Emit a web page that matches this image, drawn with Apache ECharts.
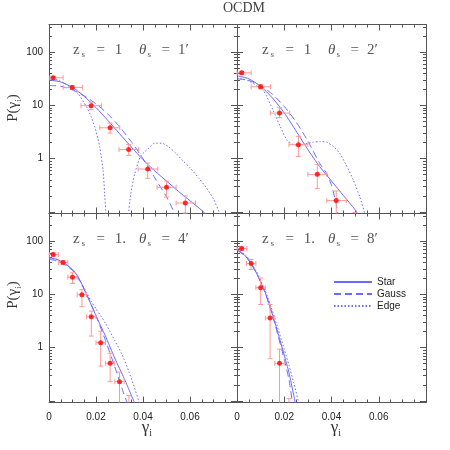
<!DOCTYPE html>
<html>
<head>
<meta charset="utf-8">
<script src="https://cdn.jsdelivr.net/npm/echarts@6/dist/echarts.min.js"></script>
<style>
html, body { margin: 0; padding: 0; background: #fff; }
#main { width: 450px; height: 450px; }
</style>
</head>
<body>
<div id="main"></div>
<script>
// axis ranges and tick labels
var xMin = 0, xMax = 0.08, xStep = 0.02;
var yMin = 0.0933, yMax = 331;
var yMajor = [0.1, 1, 10, 100];
var yLabels = [1, 10, 100];

// panel captions
var panelZ = ['1', '1', '1.', '1.'];
var panelTheta = ['1′', '2′', '4′', '8′'];

// measured points: [x, P, xlo, xhi, Plo, Phi]
var pts1 = [
    [0.0018, 33.1, 0.0004, 0.0060, 31.0, 35.0],
    [0.0099, 21.8, 0.0060, 0.0143, 20.0, 23.7],
    [0.0179, 9.87, 0.0136, 0.0223, 8.30, 11.5],
    [0.0260, 3.80, 0.0216, 0.0301, 3.02, 4.66],
    [0.0339, 1.48, 0.0298, 0.0382, 1.15, 1.85],
    [0.0420, 0.64, 0.0379, 0.0463, 0.427, 0.826],
    [0.0500, 0.29, 0.0460, 0.0541, 0.19, 0.38],
    [0.0580, 0.147, 0.0541, 0.0623, 0.095, 0.20]
];
var pts2 = [
    [0.0020, 41.0, 0.0000, 0.0060, 38.5, 43.7],
    [0.0100, 22.4, 0.0060, 0.0142, 20.5, 24.5],
    [0.0180, 7.18, 0.0141, 0.0223, 5.87, 9.06],
    [0.0260, 1.83, 0.0220, 0.0300, 1.10, 2.62],
    [0.0340, 0.507, 0.0300, 0.0380, 0.274, 0.782],
    [0.0420, 0.163, 0.0380, 0.0463, 0.09, 0.247],
    [0.0500, 0.05, 0.0460, 0.0540, 0.01, 0.098]
];
var pts3 = [
    [0.0018, 56.2, 0.0001, 0.0040, 52.5, 60.3],
    [0.0060, 39.8, 0.0040, 0.0080, 37.0, 43.0],
    [0.0100, 21.1, 0.0080, 0.0120, 16.1, 25.5],
    [0.0140, 9.86, 0.0120, 0.0160, 5.89, 12.3],
    [0.0180, 3.80, 0.0160, 0.0200, 1.65, 4.86],
    [0.0220, 1.24, 0.0200, 0.0240, 0.452, 2.04],
    [0.0260, 0.507, 0.0240, 0.0280, 0.23, 0.782],
    [0.0300, 0.23, 0.0280, 0.0320, 0.05, 0.348],
    [0.0340, 0.05, 0.0320, 0.0360, 0.01, 0.126]
];
var pts4 = [
    [0.0020, 72.9, 0.0000, 0.0042, 68.0, 78.0],
    [0.0060, 38.0, 0.0040, 0.0080, 29.4, 45.4],
    [0.0100, 13.4, 0.0080, 0.0120, 6.46, 20.4],
    [0.0140, 3.60, 0.0120, 0.0160, 0.622, 6.46],
    [0.0180, 0.507, 0.0160, 0.0200, 0.05, 0.933],
    [0.0220, 0.05, 0.0200, 0.0240, 0.01, 0.11]
];

// model curves: [x, P]
var star1 = [[0,30.2],[0.005,27.5],[0.01,21.9],[0.015,14.8],[0.02,9.12],[0.025,5.25],[0.03,2.95],[0.035,1.66],[0.04,0.955],[0.045,0.589],[0.05,0.38],[0.055,0.245],[0.06,0.162],[0.065,0.107],[0.0668,0.09]];
var gauss1 = [[0,23.7],[0.005,22.9],[0.01,19.5],[0.015,15.1],[0.02,10.7],[0.025,6.92],[0.03,3.98],[0.035,2.09],[0.04,1.0],[0.045,0.437],[0.05,0.191],[0.0537,0.09]];
var edge1a = [[0,33.1],[0.004,29.5],[0.0068,25.7],[0.01,20.4],[0.0124,16.6],[0.016,9.33],[0.018,6.03],[0.0195,3.89],[0.0208,2.40],[0.0216,1.66],[0.023,0.603],[0.0237,0.219],[0.0242,0.09]];
var edge1b = [[0.0338,0.09],[0.0348,0.219],[0.0365,0.525],[0.039,1.12],[0.042,1.51],[0.045,1.95],[0.048,1.95],[0.051,1.66],[0.054,1.26],[0.057,0.912],[0.06,0.676],[0.064,0.417],[0.067,0.282],[0.07,0.174],[0.0728,0.09]];

var star2 = [[0,36.3],[0.005,31.6],[0.01,22.9],[0.015,13.8],[0.02,7.24],[0.025,3.31],[0.03,1.48],[0.035,0.708],[0.04,0.38],[0.045,0.204],[0.05,0.11],[0.0512,0.09]];
var gauss2 = [[0,31.6],[0.005,29.5],[0.01,23.4],[0.015,16.2],[0.02,9.55],[0.025,4.9],[0.03,2.14],[0.035,0.813],[0.038,0.525],[0.04,0.316],[0.042,0.141],[0.0428,0.09]];
var edge2 = [[0,33.1],[0.005,28.8],[0.0111,19.1],[0.0153,8.05],[0.0184,3.92],[0.0212,2.2],[0.0235,1.86],[0.0252,1.78],[0.028,1.86],[0.0323,2.04],[0.035,2.09],[0.038,2.04],[0.041,1.66],[0.0436,1.24],[0.046,0.79],[0.0493,0.392],[0.052,0.19],[0.0542,0.09]];

var star3 = [[0,49],[0.004,44.7],[0.008,34.7],[0.01,29.5],[0.012,22.9],[0.014,15.5],[0.016,10.0],[0.02,3.98],[0.024,1.66],[0.028,0.631],[0.032,0.263],[0.0365,0.09]];
var gauss3 = [[0,45.7],[0.004,41.7],[0.008,33.1],[0.01,28.2],[0.012,21.4],[0.014,15.1],[0.016,10.0],[0.018,6.46],[0.02,3.98],[0.024,1.38],[0.028,0.437],[0.031,0.174],[0.0333,0.09]];
var edge3 = [[0,47.9],[0.004,43.7],[0.008,34.7],[0.01,28.8],[0.012,22.4],[0.014,15.8],[0.016,10.7],[0.018,7.41],[0.02,5.37],[0.022,3.98],[0.024,2.88],[0.026,2.0],[0.028,1.35],[0.031,0.759],[0.034,0.355],[0.036,0.2],[0.0385,0.09]];

var star4 = [[0,70.8],[0.004,50.1],[0.008,26.3],[0.012,10.7],[0.016,3.02],[0.02,0.724],[0.022,0.339],[0.024,0.129],[0.0247,0.09]];
var gauss4 = [[0,67.6],[0.004,50.1],[0.008,26.3],[0.012,10.5],[0.016,2.82],[0.02,0.603],[0.022,0.251],[0.0235,0.09]];
var edge4 = [[0,72.4],[0.004,52.5],[0.008,28.2],[0.012,11.7],[0.016,3.55],[0.02,0.933],[0.022,0.468],[0.024,0.219],[0.0262,0.09]];

var BLUE = '#6a6aff', RED = '#ff0000', ERR = '#ff9898', AX = '#555';
var SERIF = "'Liberation Serif', 'DejaVu Serif', serif";
var SANS = "'Liberation Sans', Arial, sans-serif";

var L = function (v) { return Math.log10(v); };

// minor ticks 2..9 in every decade
var yMinor = [];
for (var n = -2; n <= 2; n++) {
    for (var k = 2; k <= 9; k++) {
        var v = k * Math.pow(10, n);
        if (v > yMin && v < yMax) yMinor.push(L(v));
    }
}

var grids = [
    {left: 49, top: 24.5, width: 188, height: 189},
    {left: 237, top: 24.5, width: 189, height: 189},
    {left: 49, top: 213.5, width: 188, height: 189},
    {left: 237, top: 213.5, width: 189, height: 189}
];

function xAxes(g, labels) {
    var base = {
        type: 'value', gridIndex: g, min: xMin, max: xMax, interval: xStep,
        splitLine: {show: false}, minorSplitLine: {show: false},
        axisLine: {show: true, onZero: false, lineStyle: {color: AX, width: 1}},
        axisTick: {show: true, inside: true, length: 6, lineStyle: {color: AX}},
        minorTick: {show: true, splitNumber: 4, length: 3, lineStyle: {color: AX}}
    };
    return [
        Object.assign({}, base, {
            position: 'bottom',
            axisLabel: {
                show: labels, fontSize: 10, color: '#222', margin: 10, fontFamily: SANS,
                showMaxLabel: false,
                formatter: function (v) { return v === 0 ? '0' : v.toFixed(2); }
            }
        }),
        Object.assign({}, base, {position: 'top', axisLabel: {show: false}})
    ];
}

function yAxes(g, labels) {
    var base = {
        type: 'value', gridIndex: g, min: L(yMin), max: L(yMax),
        splitLine: {show: false}
    };
    var major = {show: true, inside: true, length: 6, lineStyle: {color: AX}, customValues: yMajor.map(L)};
    var minor = {show: true, inside: true, length: 3, lineStyle: {color: AX}, customValues: yMinor};
    var line = {show: true, onZero: false, lineStyle: {color: AX, width: 1}};
    var noLine = {show: false, onZero: false};
    return [
        Object.assign({}, base, {
            position: 'left', axisLine: line, axisTick: major,
            axisLabel: {
                show: labels, customValues: yLabels.map(L), fontSize: 10, color: '#222',
                margin: 6, fontFamily: SANS,
                formatter: function (v) { return String(Math.round(Math.pow(10, v))); }
            }
        }),
        Object.assign({}, base, {position: 'left', axisLine: noLine, axisTick: minor, axisLabel: {show: false}}),
        Object.assign({}, base, {position: 'right', axisLine: line, axisTick: major, axisLabel: {show: false}}),
        Object.assign({}, base, {position: 'right', axisLine: noLine, axisTick: minor, axisLabel: {show: false}})
    ];
}

function lineSeries(name, g, pts, dash) {
    return {
        name: name, type: 'line', xAxisIndex: 2 * g, yAxisIndex: 4 * g,
        symbol: 'none', smooth: 0.2, clip: true, z: 3, silent: true,
        lineStyle: {color: BLUE, width: 1, type: dash},
        itemStyle: {color: BLUE},
        data: pts.map(function (d) { return [d[0], L(d[1])]; })
    };
}

function errSeries(g, pts) {
    return {
        type: 'custom', xAxisIndex: 2 * g, yAxisIndex: 4 * g, z: 4, silent: true,
        encode: {x: 0, y: 1},
        data: pts.map(function (d) { return [d[0], L(d[1]), d[2], d[3], L(d[4]), L(d[5])]; }),
        renderItem: function (params, api) {
            var cs = params.coordSys;
            var top = cs.y, bot = cs.y + cs.height;
            var y = api.value(1);
            var c = api.coord([api.value(0), y]);
            var hi = api.coord([api.value(0), api.value(5)])[1];
            var lo = api.coord([api.value(0), api.value(4)])[1];
            var xl = api.coord([api.value(2), y])[0];
            var xr = api.coord([api.value(3), y])[0];
            var cap = 2.5;
            var ch = [];
            function seg(x1, y1, x2, y2) {
                ch.push({type: 'line', shape: {x1: x1, y1: y1, x2: x2, y2: y2},
                    style: {stroke: ERR, lineWidth: 1, fill: null}});
            }
            if (c[1] >= top && c[1] <= bot) {
                seg(xl, c[1], xr, c[1]);
                seg(xl, c[1] - cap, xl, c[1] + cap);
                seg(xr, c[1] - cap, xr, c[1] + cap);
            }
            var yh = Math.max(top, hi), yl = Math.min(bot, lo);
            if (yh < yl) seg(c[0], yh, c[0], yl);
            if (hi >= top && hi <= bot) seg(c[0] - cap, hi, c[0] + cap, hi);
            if (lo >= top && lo <= bot) seg(c[0] - cap, lo, c[0] + cap, lo);
            return {type: 'group', children: ch};
        }
    };
}

function pointSeries(g, pts) {
    return {
        type: 'scatter', xAxisIndex: 2 * g, yAxisIndex: 4 * g, z: 5, silent: true,
        symbol: 'circle', symbolSize: 5, clip: true,
        itemStyle: {color: RED},
        data: pts.map(function (d) { return [d[0], L(d[1])]; })
    };
}

var panels = [
    {pts: pts1, star: [star1], gauss: [gauss1], edge: [edge1a, edge1b]},
    {pts: pts2, star: [star2], gauss: [gauss2], edge: [edge2]},
    {pts: pts3, star: [star3], gauss: [gauss3], edge: [edge3]},
    {pts: pts4, star: [star4], gauss: [gauss4], edge: [edge4]}
];

var xAxis = [], yAxis = [], series = [];
panels.forEach(function (p, g) {
    xAxis = xAxis.concat(xAxes(g, g >= 2));
    yAxis = yAxis.concat(yAxes(g, g % 2 === 0));
    p.star.forEach(function (c) { series.push(lineSeries('Star', g, c, 'solid')); });
    p.gauss.forEach(function (c) { series.push(lineSeries('Gauss', g, c, [7, 4])); });
    p.edge.forEach(function (c) { series.push(lineSeries('Edge', g, c, [1.5, 2])); });
    series.push(errSeries(g, p.pts));
    series.push(pointSeries(g, p.pts));
});

// captions, titles, axis names
function caption(x, y, z, th) {
    return {
        type: 'text', x: x, y: y, silent: true, z: 10,
        style: {
            text: '{z|z}{s1|s}{e1|=}{v1|' + z + '}{t|θ}{s2|s}{e2|=}{v2|' + th + '}',
            fill: '#555', verticalAlign: 'middle', align: 'left',
            rich: {
                z: {fontFamily: SERIF, fontSize: 15, width: 8.4, lineHeight: 18},
                s1: {fontFamily: SERIF, fontSize: 9, width: 15, verticalAlign: 'bottom', lineHeight: 18},
                e1: {fontFamily: SERIF, fontSize: 15, width: 18.3, lineHeight: 18},
                v1: {fontFamily: SERIF, fontSize: 15, width: 24.3, lineHeight: 18},
                t: {fontFamily: SERIF, fontSize: 15, fontStyle: 'italic', width: 8.4, lineHeight: 18},
                s2: {fontFamily: SERIF, fontSize: 9, width: 14, verticalAlign: 'bottom', lineHeight: 18},
                e2: {fontFamily: SERIF, fontSize: 15, width: 16.6, lineHeight: 18},
                v2: {fontFamily: SERIF, fontSize: 15, lineHeight: 18}
            }
        }
    };
}

function gammaLabel(x, y) {
    return {
        type: 'text', x: x, y: y, silent: true,
        style: {
            text: '{g|γ}{i|i}', fill: '#333', align: 'center', verticalAlign: 'middle',
            rich: {
                g: {fontFamily: SERIF, fontSize: 17, lineHeight: 20},
                i: {fontFamily: SERIF, fontSize: 10, lineHeight: 20, verticalAlign: 'bottom'}
            }
        }
    };
}

function pLabel(x, y) {
    return {
        type: 'text', x: x, y: y, rotation: Math.PI / 2, silent: true,
        style: {
            text: '{p|P(γ}{i|i}{p|)}', fill: '#333', align: 'center', verticalAlign: 'middle',
            rich: {
                p: {fontFamily: SERIF, fontSize: 15, lineHeight: 20},
                i: {fontFamily: SERIF, fontSize: 9, lineHeight: 20, verticalAlign: 'bottom'}
            }
        }
    };
}

var graphic = [
    {type: 'text', x: 244, y: 8, silent: true,
        style: {text: 'OCDM', fill: '#444', font: '14px ' + SERIF, align: 'center', verticalAlign: 'middle'}},
    caption(73, 50, panelZ[0], panelTheta[0]),
    caption(262, 50, panelZ[1], panelTheta[1]),
    caption(73, 239.5, panelZ[2], panelTheta[2]),
    caption(262, 239.5, panelZ[3], panelTheta[3]),
    gammaLabel(147, 428),
    gammaLabel(336, 428),
    pLabel(13, 108),
    pLabel(13, 295)
];

var myChart = echarts.init(document.getElementById('main'), null, {renderer: 'canvas'});
myChart.setOption({
    animation: false,
    backgroundColor: '#fff',
    grid: grids,
    xAxis: xAxis,
    yAxis: yAxis,
    legend: {
        data: ['Star', 'Gauss', 'Edge'],
        orient: 'vertical', left: 328, top: 272,
        itemWidth: 38, itemHeight: 12, itemGap: 2, selectedMode: false,
        itemStyle: {opacity: 0},
        textStyle: {fontSize: 10, color: '#222', fontFamily: SANS}
    },
    graphic: graphic,
    series: series
});
</script>
</body>
</html>
